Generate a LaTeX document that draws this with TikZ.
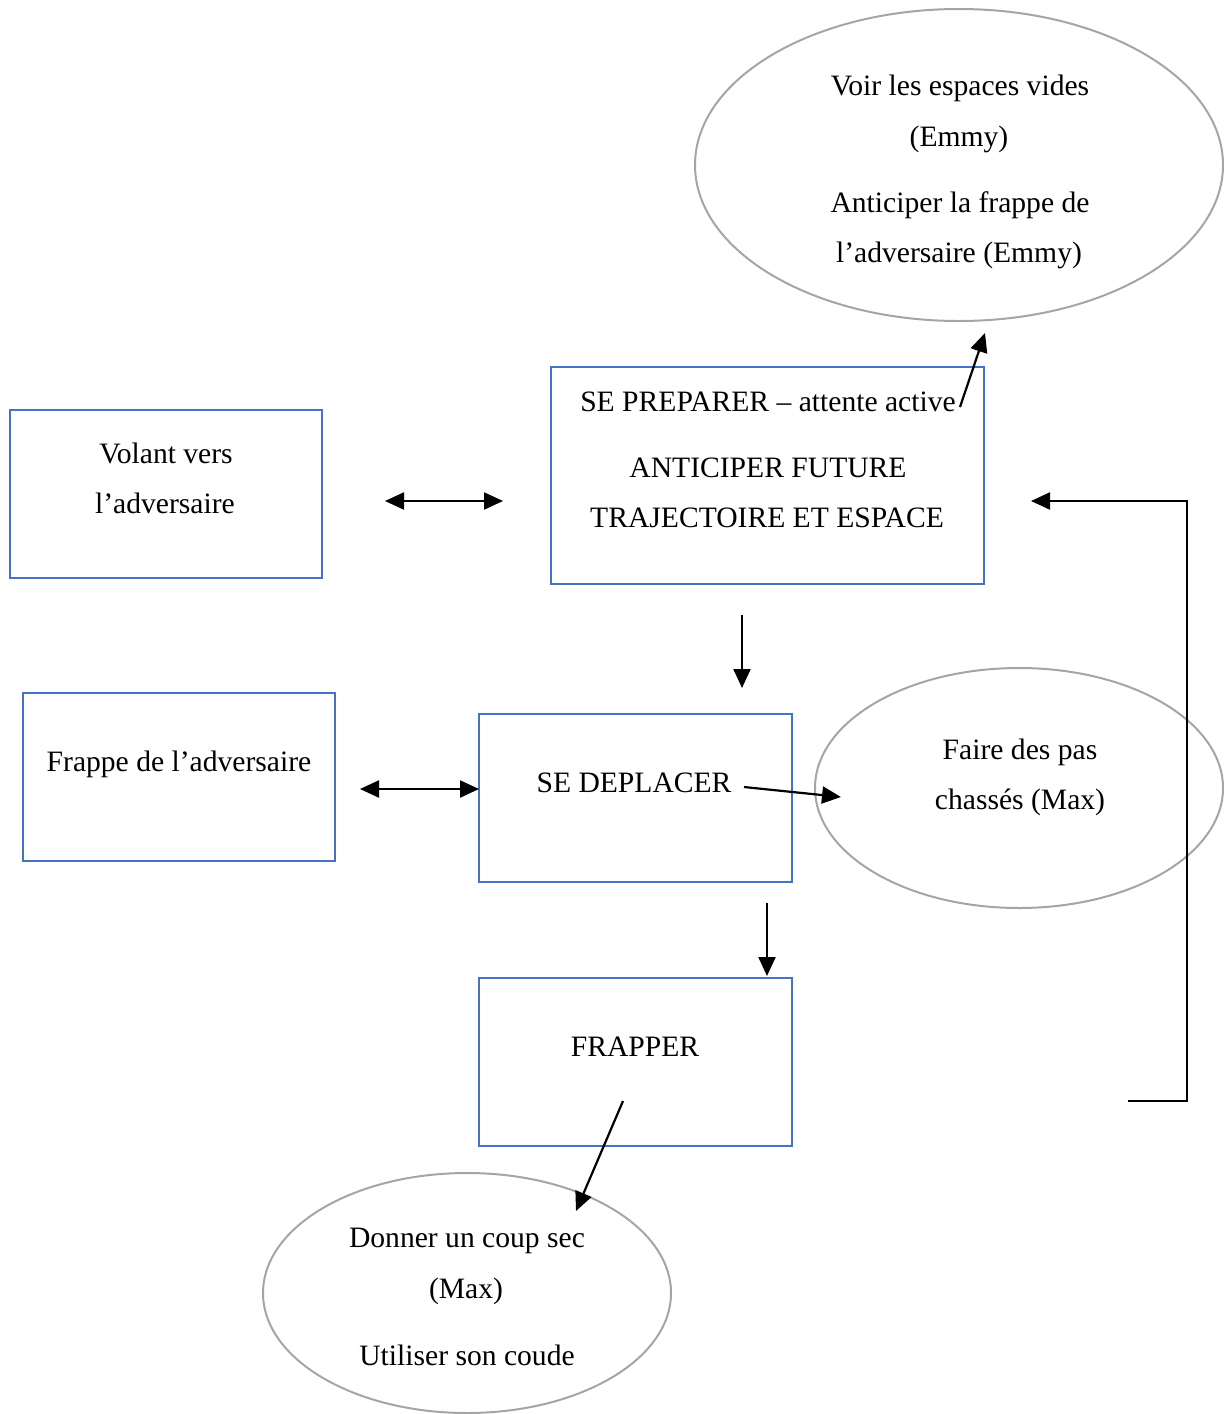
\documentclass[tikz,border=0pt]{standalone}
\usepackage{fontspec}
\setmainfont{Liberation Serif}
\usetikzlibrary{arrows.meta}
\definecolor{boxblue}{HTML}{4472C4}
\definecolor{ellgray}{HTML}{A5A5A5}
\tikzset{
  boxnode/.style={draw=boxblue, line width=1.2pt, rectangle, inner sep=0pt},
  ellnode/.style={draw=ellgray, line width=2pt, ellipse, inner sep=0pt},
  txt/.style={anchor=base, inner sep=0pt, font=\fontsize{29.6}{50}\selectfont},
  arr/.style={line width=2.2pt, -{Triangle[length=19pt,width=17pt]}},
  darr/.style={line width=2.2pt, {Triangle[length=19pt,width=17pt]}-{Triangle[length=19pt,width=17pt]}},
}
\usetikzlibrary{shapes.geometric}
\begin{document}
\begin{tikzpicture}[x=1pt,y=-1pt]
\useasboundingbox (0,0) rectangle (1226,1414);
% boxes
\node[boxnode, minimum width=312pt, minimum height=168pt] (volant) at (166,494) {};
\node[boxnode, minimum width=312pt, minimum height=168pt] (frappeadv) at (179,777) {};
\node[boxnode, minimum width=433pt, minimum height=217pt] (prep) at (767.5,475.5) {};
\node[boxnode, minimum width=313pt, minimum height=168pt] (depl) at (635.5,798) {};
\node[boxnode, minimum width=313pt, minimum height=168pt] (frapper) at (635.5,1062) {};
% ellipses
\node[ellnode, minimum width=528pt, minimum height=312pt] (voir) at (959,165) {};
\node[ellnode, minimum width=408pt, minimum height=240pt] (faire) at (1019,788) {};
\node[ellnode, minimum width=408pt, minimum height=240pt] (donner) at (467,1293) {};
% texts
\node[txt] (t1) at (166,463) {Volant vers};
\node[txt] (t2) at (165,513) {l’adversaire};
\node[txt] (t3) at (179,771) {Frappe de l’adversaire};
\node[txt] (t4) at (768,411) {SE PREPARER – attente active};
\node[txt] (t5) at (768,477) {ANTICIPER FUTURE};
\node[txt] (t6) at (767,527) {TRAJECTOIRE ET ESPACE};
\node[txt] (t7) at (634,792) {SE DEPLACER};
\node[txt] (t8) at (635,1056) {FRAPPER};
\node[txt] (t9) at (960,95) {Voir les espaces vides};
\node[txt] (t10) at (959,146) {(Emmy)};
\node[txt] (t11) at (960,212) {Anticiper la frappe de};
\node[txt] (t12) at (959,262) {l’adversaire (Emmy)};
\node[txt] (t13) at (1020,759) {Faire des pas};
\node[txt] (t14) at (1020,809) {chassés (Max)};
\node[txt] (t15) at (467,1247) {Donner un coup sec};
\node[txt] (t16) at (466,1298) {(Max)};
\node[txt] (t17) at (467,1365) {Utiliser son coude};
% connector coordinates
\coordinate (a1) at (385,501);
\coordinate (a2) at (503,501);
\coordinate (b1) at (360,789);
\coordinate (b2) at (479,789);
\coordinate (c1) at (742,615);
\coordinate (c2) at (742,688);
\coordinate (d1) at (767,903);
\coordinate (d2) at (767,976);
\coordinate (e1) at (744,787);
\coordinate (e2) at (841,797);
\coordinate (f1) at (623,1101);
\coordinate (f2) at (576,1211);
\coordinate (g1) at (960,407);
\coordinate (g2) at (985,333);
\coordinate (h1) at (1128,1101);
\coordinate (h2) at (1187,1101);
\coordinate (h3) at (1187,501);
\coordinate (h4) at (1031,501);
% connectors
\draw[darr] (a1) -- (a2);
\draw[darr] (b1) -- (b2);
\draw[arr] (c1) -- (c2);
\draw[arr] (d1) -- (d2);
\draw[arr] (e1) -- (e2);
\draw[arr] (f1) -- (f2);
\draw[arr] (g1) -- (g2);
\draw[arr] (h1) -- (h2) -- (h3) -- (h4);
\end{tikzpicture}
\end{document}
